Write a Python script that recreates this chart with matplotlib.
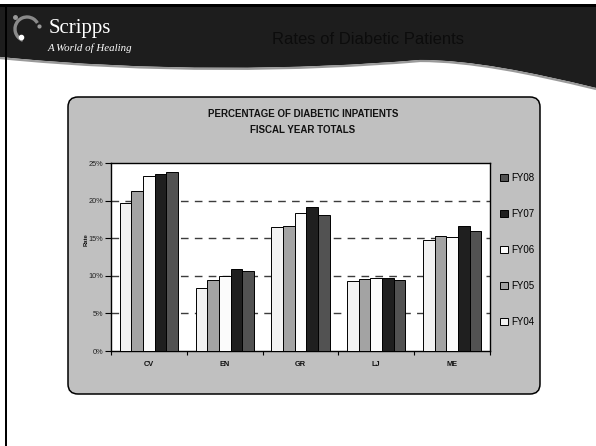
import numpy as np
import matplotlib
matplotlib.use("Agg")
import matplotlib.pyplot as plt
from matplotlib.patches import FancyBboxPatch, PathPatch, Rectangle, Arc
from matplotlib.path import Path

categories = ["CV", "EN", "GR", "LJ", "ME"]
series_names = ["FY04", "FY05", "FY06", "FY07", "FY08"]
fy04 = [19.7, 8.4, 16.45, 9.3, 14.7]
fy05 = [21.3, 9.4, 16.6, 9.6, 15.25]
fy06 = [23.3, 10.0, 18.4, 9.75, 15.1]
fy07 = [23.5, 10.9, 19.1, 9.65, 16.6]
fy08 = [23.8, 10.7, 18.1, 9.5, 15.9]
series_values = [fy04, fy05, fy06, fy07, fy08]
series_colors = ["#f2f2f2", "#a3a3a3", "#fbfbfb", "#1f1f1f", "#525252"]
y_ticks = [0, 5, 10, 15, 20, 25]
y_tick_labels = ["0%", "5%", "10%", "15%", "20%", "25%"]

W, H = 596, 446
fig = plt.figure(figsize=(W / 100, H / 100), dpi=100)
fig.patch.set_facecolor("white")

# background overlay in pixel coordinates
bg = fig.add_axes([0, 0, 1, 1])
bg.set_xlim(0, W)
bg.set_ylim(H, 0)
bg.axis("off")

# header with curved bottom
verts = [(0, 4), (W, 4), (W, 88), (530, 72), (470, 60), (420, 60),
         (300, 70), (150, 72), (0, 57), (0, 4)]
codes = [Path.MOVETO, Path.LINETO, Path.LINETO, Path.CURVE4, Path.CURVE4, Path.CURVE4,
         Path.CURVE4, Path.CURVE4, Path.CURVE4, Path.CLOSEPOLY]
bg.add_patch(PathPatch(Path(verts, codes), facecolor="#1d1d1d", edgecolor="none", zorder=1))
cverts = [(0, 58), (150, 73), (300, 71), (420, 61), (470, 61), (530, 73), (W, 89)]
ccodes = [Path.MOVETO, Path.CURVE4, Path.CURVE4, Path.CURVE4, Path.CURVE4, Path.CURVE4, Path.CURVE4]
bg.add_patch(PathPatch(Path(cverts, ccodes), facecolor="none", edgecolor="#9a9a9a", lw=1.6, zorder=2))
bg.add_patch(Rectangle((0, 3.5), W, 3, facecolor="black", edgecolor="none", zorder=3))
bg.add_patch(Rectangle((5, 4), 2.2, H - 4, facecolor="black", edgecolor="none", zorder=3))

# logo
bg.add_patch(Arc((27, 29), 24, 24, theta1=110, theta2=330, color="#8a8a8a", lw=2.4, zorder=4))
bg.plot([21], [37], marker="o", ms=3, color="white", zorder=5)
bg.plot([15], [17], marker="o", ms=2.5, color="#9a9a9a", zorder=5)
bg.plot([39], [26], marker="o", ms=2.0, color="#9a9a9a", zorder=5)
bg.text(49, 28, "Scripps", color="white", fontsize=15, family="Liberation Serif",
        va="center", ha="left", zorder=5)
bg.text(48, 48, "A World of Healing", color="white", fontsize=7.8, family="Liberation Serif",
        style="italic", va="center", ha="left", zorder=5)
bg.text(368, 40, "Rates of Diabetic Patients", color="#0c0c0c", fontsize=12,
        family="Liberation Sans", va="center", ha="center", zorder=5)

# grey rounded panel
bg.add_patch(FancyBboxPatch((68, 97), 472, 297, boxstyle="round,pad=0,rounding_size=10",
                            facecolor="#c0c0c0", edgecolor="black", lw=1.1, zorder=2))
bg.text(303, 114, "PERCENTAGE OF DIABETIC INPATIENTS", fontsize=7, fontweight="bold",
        family="Liberation Sans", ha="center", va="center", color="#111111", zorder=5)
bg.text(303, 130, "FISCAL YEAR TOTALS", fontsize=7, fontweight="bold",
        family="Liberation Sans", ha="center", va="center", color="#111111", zorder=5)
bg.text(86, 240, "Rate", fontsize=4.2, fontweight="bold", family="Liberation Sans",
        rotation=90, ha="center", va="center", color="#111111", zorder=5)

# chart axes
px0, px1, py0, py1 = 111, 490, 163, 351
ax = fig.add_axes([px0 / W, (H - py1) / H, (px1 - px0) / W, (py1 - py0) / H])
ax.set_facecolor("white")
n = len(categories)
x = np.arange(n) + 0.5
bw = 0.154
for j, (name, vals, col) in enumerate(zip(series_names, series_values, series_colors)):
    ax.bar(x + (j - 2) * bw, vals, width=bw, color=col, edgecolor="black", lw=0.7,
           label=name, zorder=3)
for yv in y_ticks[1:-1]:
    ax.axhline(yv, color="#3c3c3c", lw=1.0, dashes=(5.5, 4.5), zorder=1)
ax.set_xlim(0, n)
ax.set_ylim(0, 25)
ax.set_yticks(y_ticks)
ax.set_yticklabels(y_tick_labels, fontsize=5.3, family="Liberation Sans", color="#222222")
ax.set_xticks(np.arange(n + 1))
ax.set_xticklabels([])
ax.set_xticks(x, minor=True)
ax.set_xticklabels(categories, minor=True, fontsize=5.3, fontweight="bold",
                   family="Liberation Sans", color="#111111")
ax.tick_params(axis="x", which="minor", length=0, pad=7)
ax.tick_params(axis="x", which="major", direction="out", length=3, width=0.8)
ax.tick_params(axis="y", direction="out", length=4, width=0.8, pad=1.5)
for s in ax.spines.values():
    s.set_color("black")
    s.set_linewidth(1.0)

handles, labels = ax.get_legend_handles_labels()
leg = ax.legend(handles[::-1], labels[::-1], loc="upper left",
                bbox_to_anchor=(1.0, 1.0), frameon=False, prop={"family": "Liberation Sans", "size": 7},
                handlelength=0.8, handleheight=0.8, handletextpad=0.4, labelspacing=2.68,
                borderaxespad=0.6)

fig.savefig("out.png", dpi=100, facecolor="white")
